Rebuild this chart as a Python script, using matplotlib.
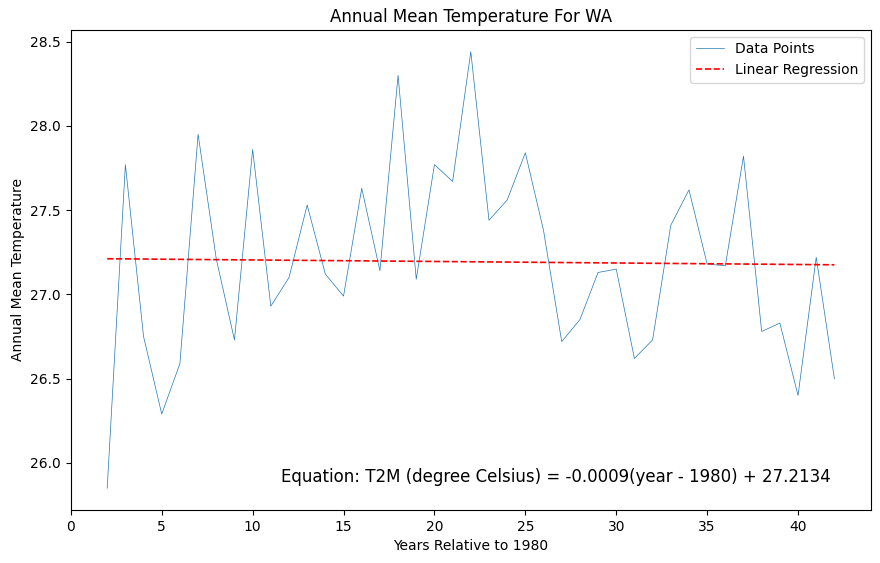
import numpy as np
import matplotlib
matplotlib.use("Agg")
import matplotlib.pyplot as plt

years = list(range(2, 43))
temps = [25.85, 27.77, 26.75, 26.29, 26.59, 27.95, 27.21, 26.73, 27.86, 26.93,
         27.10, 27.53, 27.12, 26.99, 27.63, 27.14, 28.30, 27.09, 27.77, 27.67,
         28.44, 27.44, 27.56, 27.84, 27.38, 26.72, 26.85, 27.13, 27.15, 26.62,
         26.73, 27.41, 27.62, 27.18, 27.17, 27.82, 26.78, 26.83, 26.40, 27.22,
         26.50]
slope = -0.0009
intercept = 27.2134

x = np.array(years)
fit = slope * x + intercept

fig = plt.figure(figsize=(8.8, 5.63), dpi=100)
ax = fig.add_axes([0.0805, 0.094, 0.909, 0.853])
ax.plot(x, temps, linewidth=0.5, label="Data Points")
ax.plot(x, fit, color="red", linestyle="--", linewidth=1.2, label="Linear Regression")
ax.set_xlabel("Years Relative to 1980")
ax.set_ylabel("Annual Mean Temperature")
ax.set_title("Annual Mean Temperature For WA")
ax.text(0.95, 0.05, "Equation: T2M (degree Celsius) = %.4f(year - 1980) + %.4f" % (slope, intercept),
        transform=ax.transAxes, ha="right", va="bottom", fontsize=12)
ax.legend(loc="upper right")
fig.savefig("out.png")
